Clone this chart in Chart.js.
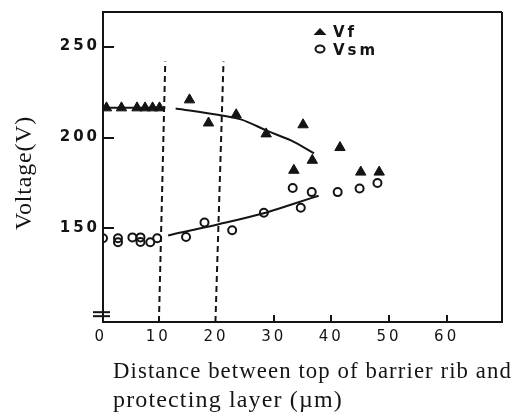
<!DOCTYPE html>
<html>
<head>
<meta charset="utf-8">
<script src="https://cdn.jsdelivr.net/npm/chart.js@4"></script>
<style>
  html, body { margin: 0; padding: 0; background: #fff; }
  #wrap { width: 522px; height: 415px; position: relative; }
</style>
</head>
<body>
<div id="wrap"><canvas id="chart"></canvas></div>
<script>
// Vf (firing voltage) points
const vfX = [1.0, 3.6, 6.3, 7.7, 9.0, 10.2, 15.4, 18.7, 23.5, 28.7, 33.5, 35.1, 36.7, 41.5, 45.1, 48.3];
const vfY = [216.3, 216.3, 216.3, 216.3, 216.3, 216.3, 220.7, 208, 212.5, 202, 182, 207, 187.5, 194.5, 181, 181];

// Vsm (minimum sustain voltage) points
const vsmX = [0.4, 3.0, 3.0, 5.5, 6.9, 6.9, 8.6, 9.8, 14.8, 18.0, 22.8, 28.3, 33.3, 34.7, 36.6, 41.1, 44.9, 48.0];
const vsmY = [144.6, 144.6, 142.4, 145.1, 145.1, 142.6, 142.4, 144.6, 145.3, 153.3, 149, 158.7, 172.3, 161.4, 170, 170, 172, 175];

// hand-drawn trend curves
const vfFlatX = [0.4, 11.2];
const vfFlatY = [216.3, 216.3];
const vfCurveX = [13, 20.3, 24.3, 29, 33, 37];
const vfCurveY = [216, 212.5, 210, 203.5, 198.4, 191.3];
const vsmCurveX = [11.7, 20.3, 28.1, 33.5, 37.8];
const vsmCurveY = [146.2, 152.2, 158.2, 163.6, 168];

// dashed guide lines (slightly slanted in the original)
const guide1X = [10.1, 11.2];
const guide2X = [19.9, 21.3];
const guideY = [98.6, 241.8];

const xTicks = [0, 10, 20, 30, 40, 50, 60];
const yTicks = [150, 200, 250];
const xInnerTicks = [30, 40, 50, 60];
const breakY = [104, 101.8];

const INK = '#141414';

function pts(xs, ys) {
    return xs.map((x, i) => ({ x: x, y: ys[i] }));
}

function lineSet(xs, ys, extra) {
    return Object.assign({
        type: 'line',
        data: pts(xs, ys),
        borderColor: INK,
        borderWidth: 2,
        pointRadius: 0,
        fill: false,
        showLine: true
    }, extra || {});
}

// wraps a scale draw step so it can get its own spacing / shift
function wrapDraw(scale, name, spacing, dx, dy) {
    const orig = scale[name].bind(scale);
    scale[name] = function (arg) {
        const ctx = scale.ctx;
        ctx.save();
        ctx.letterSpacing = spacing;
        ctx.translate(dx, dy);
        orig(arg);
        ctx.restore();
    };
}

function seg(ctx, x1, y1, x2, y2) {
    ctx.beginPath();
    ctx.moveTo(x1, y1);
    ctx.lineTo(x2, y2);
    ctx.stroke();
}

// frame, inner tick marks, axis break and legend
const decorPlugin = {
    id: 'decor',
    afterLayout(chart) {
        const xs = chart.scales.x;
        const ys = chart.scales.y;
        if (!xs._wrapped) {
            wrapDraw(xs, 'drawLabels', '3px', 0, 0);
            wrapDraw(xs, 'drawTitle', '1.15px', 10, 0);
            xs._wrapped = true;
        }
        if (!ys._wrapped) {
            wrapDraw(ys, 'drawLabels', '3px', 0, 0);
            wrapDraw(ys, 'drawTitle', '0.8px', 0, 6);
            ys._wrapped = true;
        }
    },
    afterDraw(chart) {
        const ctx = chart.ctx;
        const a = chart.chartArea;
        const xs = chart.scales.x;
        const ys = chart.scales.y;
        ctx.save();
        ctx.setLineDash([]);
        ctx.strokeStyle = INK;
        ctx.lineWidth = 2;
        ctx.lineCap = 'butt';

        // top and right side of the frame
        seg(ctx, a.left, a.top, a.right, a.top);
        seg(ctx, a.right, a.top, a.right, a.bottom);

        // inner tick marks
        yTicks.forEach(v => {
            const py = Math.round(ys.getPixelForValue(v));
            seg(ctx, a.left, py, a.left + 11, py);
        });
        xInnerTicks.forEach(v => {
            const px = Math.round(xs.getPixelForValue(v));
            seg(ctx, px, a.bottom, px, a.bottom - 7);
        });

        // axis break
        breakY.forEach(v => {
            const py = ys.getPixelForValue(v);
            seg(ctx, a.left - 10, py, a.left + 7, py);
        });

        // legend
        const lx = a.left + 217;
        const ly1 = a.top + 20;
        const ly2 = a.top + 37;
        ctx.fillStyle = INK;
        ctx.beginPath();
        ctx.moveTo(lx - 6.5, ly1 + 3);
        ctx.lineTo(lx + 6.5, ly1 + 3);
        ctx.lineTo(lx, ly1 - 4);
        ctx.closePath();
        ctx.fill();
        ctx.beginPath();
        ctx.ellipse(lx, ly2, 4.5, 3.5, 0, 0, Math.PI * 2);
        ctx.stroke();

        ctx.textBaseline = 'alphabetic';
        ctx.textAlign = 'left';
        ctx.letterSpacing = '3px';
        ctx.font = 'bold 15px "DejaVu Sans"';
        const labels = chart.data.datasets.filter(d => d.legend).map(d => d.label);
        ctx.fillText(labels[0], lx + 13, ly1 + 5);
        ctx.fillText(labels[1], lx + 13, ly2 + 6);
        ctx.restore();
    }
};

const chart = new Chart(document.getElementById('chart'), {
    type: 'scatter',
    data: {
        datasets: [
            {
                label: 'Vf',
                legend: true,
                data: pts(vfX, vfY),
                pointStyle: 'triangle',
                pointRadius: 6,
                backgroundColor: INK,
                borderColor: INK,
                borderWidth: 1
            },
            {
                label: 'Vsm',
                legend: true,
                data: pts(vsmX, vsmY),
                pointStyle: 'circle',
                pointRadius: 4,
                backgroundColor: 'rgba(255,255,255,0)',
                borderColor: INK,
                borderWidth: 2
            },
            lineSet(vfFlatX, vfFlatY, { label: 'vf-flat' }),
            lineSet(vfCurveX, vfCurveY, { label: 'vf-fit', tension: 0.4, cubicInterpolationMode: 'monotone' }),
            lineSet(vsmCurveX, vsmCurveY, { label: 'vsm-fit', tension: 0.4, cubicInterpolationMode: 'monotone' }),
            lineSet(guide1X, guideY, { label: 'g1', borderDash: [6, 4] }),
            lineSet(guide2X, guideY, { label: 'g2', borderDash: [6, 4] })
        ]
    },
    options: {
        responsive: true,
        maintainAspectRatio: false,
        animation: false,
        layout: {
            padding: { left: 0, right: 20, top: 10, bottom: 0 }
        },
        plugins: {
            legend: { display: false },
            tooltip: { enabled: false }
        },
        scales: {
            x: {
                type: 'linear',
                min: 0.4,
                max: 69.6,
                afterBuildTicks: (scale) => {
                    scale.ticks = xTicks.map(v => ({ value: v }));
                },
                afterFit: (scale) => {
                    scale.height = 93;
                },
                grid: { display: false, drawTicks: false },
                border: { display: true, color: INK, width: 2 },
                ticks: {
                    color: INK,
                    padding: 6,
                    maxRotation: 0,
                    autoSkip: false,
                    font: { family: '"DejaVu Sans"', size: 15 }
                },
                title: {
                    display: true,
                    align: 'start',
                    text: ['Distance between top of barrier rib and', 'protecting layer (\u00b5m)'],
                    color: INK,
                    font: { family: '"Liberation Serif"', size: 24, lineHeight: 1.2 },
                    padding: { top: 0, bottom: 0 }
                }
            },
            y: {
                type: 'linear',
                min: 98.6,
                max: 269,
                afterBuildTicks: (scale) => {
                    scale.ticks = yTicks.map(v => ({ value: v }));
                },
                afterFit: (scale) => {
                    scale.width = 103;
                },
                grid: { display: false, drawTicks: false },
                border: { display: true, color: INK, width: 2 },
                ticks: {
                    color: INK,
                    padding: 3,
                    font: { family: '"DejaVu Sans"', size: 15, weight: 'bold' }
                },
                title: {
                    display: true,
                    text: 'Voltage(V)',
                    color: INK,
                    font: { family: '"Liberation Serif"', size: 24 },
                    padding: { top: 10, bottom: 0 }
                }
            }
        }
    },
    plugins: [decorPlugin]
});
</script>
</body>
</html>
